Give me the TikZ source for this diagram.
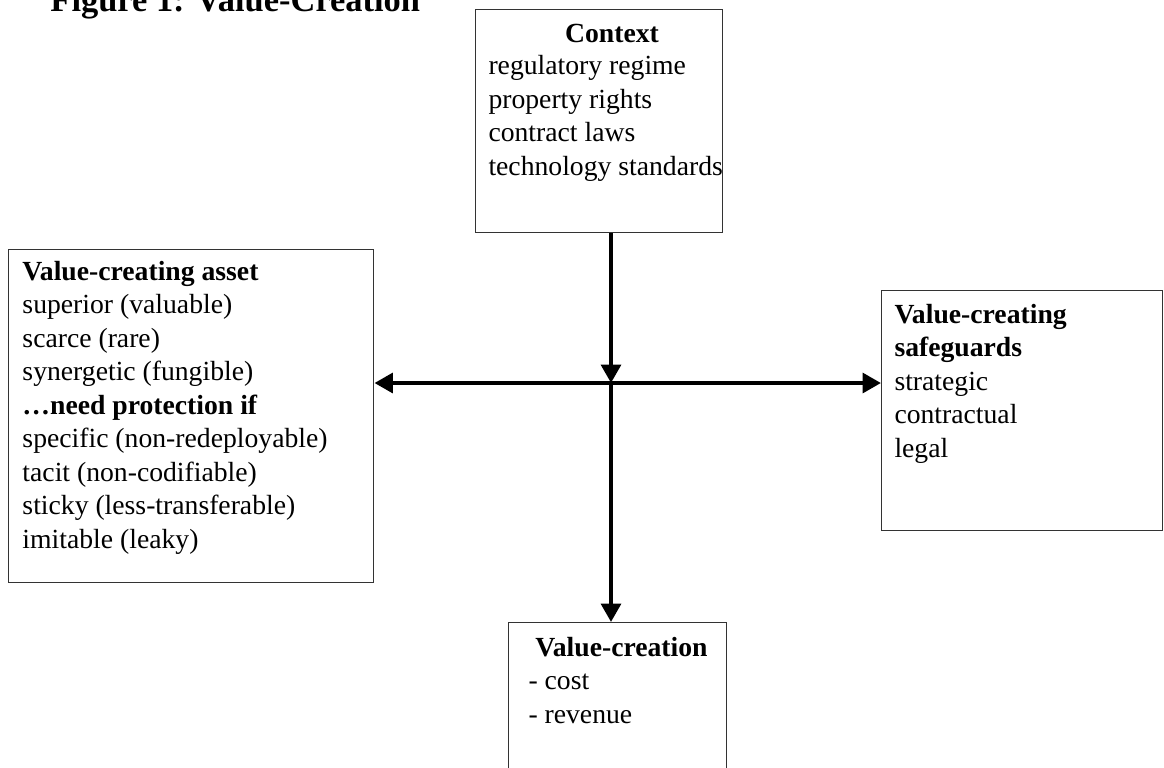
\documentclass[tikz,border=0pt]{standalone}
\usepackage{fontspec}
\setmainfont{Liberation Serif}
\usetikzlibrary{arrows.meta,calc}

\begin{document}
\begin{tikzpicture}[x=0.4065pt,y=-0.4065pt,>={Triangle[length=7.5pt,width=8pt]}]

    \tikzset{
        box/.style={draw=black!80,line width=0.6pt,inner sep=0pt,anchor=north west},
        boxtext/.style={inner sep=0pt,anchor=base west,align=left,font=\fontsize{11.25}{13.6}\selectfont},
        link/.style={line width=1.7pt}
    }

    % 画布大小
    \useasboundingbox (0,0) rectangle (1164,767);
    \clip (0,0) rectangle (1164,767);

    % 标题
    \node[inner sep=0pt,anchor=base west,font=\bfseries\fontsize{14}{16}\selectfont] (title) at (50,11) {Figure 1: Value-Creation};

    % 四个方框
    \node[box,minimum width=247*0.4065pt,minimum height=223*0.4065pt] (ctx) at (475,9) {};
    \node[box,minimum width=365*0.4065pt,minimum height=333*0.4065pt] (asset) at (8,249) {};
    \node[box,minimum width=281*0.4065pt,minimum height=240*0.4065pt] (guard) at (881,290) {};
    \node[box,minimum width=218*0.4065pt,minimum height=200*0.4065pt] (vc) at (508,622) {};

    % 方框文字
    \node[boxtext,anchor=base,font=\bfseries\fontsize{11.25}{13.6}\selectfont] (ctxhead) at (612,42) {Context};
    \node[boxtext] (ctxtext) at (488,175) {regulatory regime\\property rights\\contract laws\\technology standards};
    \node[boxtext] (assettext) at (22,548) {\textbf{Value-creating asset}\\superior (valuable)\\scarce (rare)\\synergetic (fungible)\\\textbf{\ldots need protection if}\\specific (non-redeployable)\\tacit (non-codifiable)\\sticky (less-transferable)\\imitable (leaky)};
    \node[boxtext] (guardtext) at (894,457) {\textbf{Value-creating}\\\textbf{safeguards}\\strategic\\contractual\\legal};
    \node[boxtext] (vctext) at (528,723) {\hspace*{2.8pt}\textbf{Value-creation}\\- cost\\- revenue};

    % 交叉点
    \coordinate (hub) at (611,383);

    % 箭头
    \draw[link,->] (hub |- ctx.south) -- (hub);
    \draw[link,->] (hub) -- (hub |- vc.north);
    \draw[link,<->] (hub -| asset.east) -- (hub -| guard.west);

\end{tikzpicture}
\end{document}
